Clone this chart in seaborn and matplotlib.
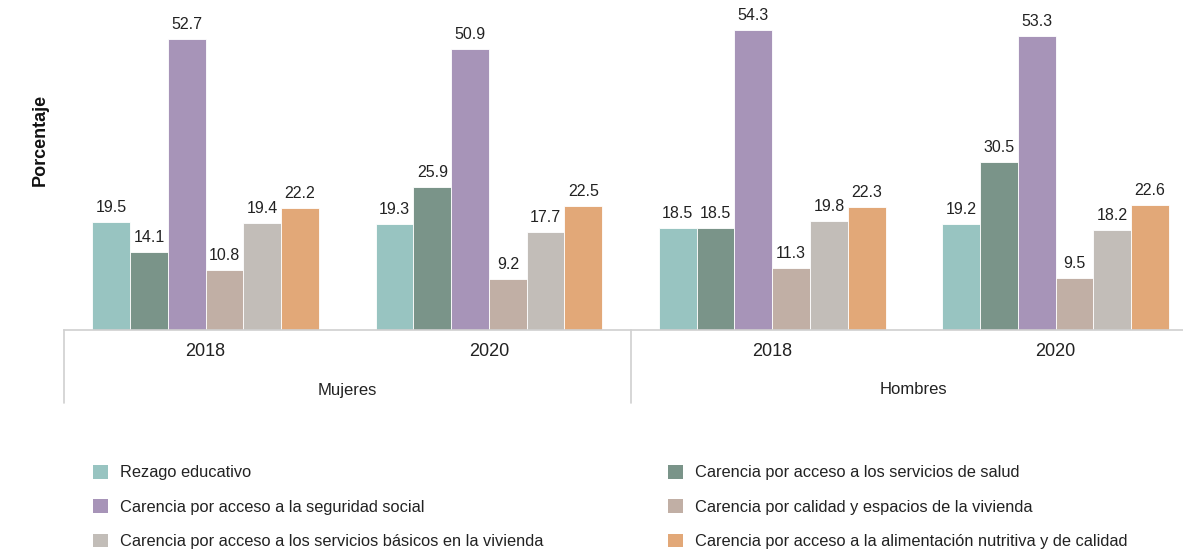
import pandas as pd
import seaborn as sns
import matplotlib.pyplot as plt
from matplotlib.patches import Patch

# Datos
grupos = ["Mujeres 2018", "Mujeres 2020", "Hombres 2018", "Hombres 2020"]
anios = ["2018", "2020", "2018", "2020"]
sexos = ["Mujeres", "Hombres"]
carencias = [
    "Rezago educativo",
    "Carencia por acceso a los servicios de salud",
    "Carencia por acceso a la seguridad social",
    "Carencia por calidad y espacios de la vivienda",
    "Carencia por acceso a los servicios básicos en la vivienda",
    "Carencia por acceso a la alimentación nutritiva y de calidad",
]
rezago = [19.5, 19.3, 18.5, 19.2]
salud = [14.1, 25.9, 18.5, 30.5]
seguridad = [52.7, 50.9, 54.3, 53.3]
calidad = [10.8, 9.2, 11.3, 9.5]
basicos = [19.4, 17.7, 19.8, 18.2]
alimentacion = [22.2, 22.5, 22.3, 22.6]

colores = ["#98C4C1", "#7A9489", "#A794B8", "#C1AFA5", "#C2BDB8", "#E2A878"]

series = [rezago, salud, seguridad, calidad, basicos, alimentacion]
filas = []
for carencia, valores in zip(carencias, series):
    for grupo, v in zip(grupos, valores):
        filas.append({"grupo": grupo, "carencia": carencia, "valor": v})
df = pd.DataFrame(filas)

sns.set_theme(style="white")
plt.rcParams["font.family"] = ["Liberation Sans", "DejaVu Sans"]

W, H = 1183, 549
fig = plt.figure(figsize=(W / 100, H / 100), dpi=100)
ax = fig.add_axes([64 / W, 1 - 330 / H, (W - 64) / W, 320 / H])

sns.barplot(data=df, x="grupo", y="valor", hue="carencia", order=grupos,
            hue_order=carencias, palette=colores, saturation=1, width=0.8,
            ax=ax, edgecolor="white", linewidth=0.6, legend=False)

for cont in ax.containers:
    ax.bar_label(cont, fmt="%.1f", padding=5, fontsize=11.5, color="#222222")

ax.set_ylim(0, 58)
ax.set_xlim(-0.5, 3.45)
ax.set_xlabel("")
ax.set_ylabel("")
ax.set_yticks([])
ax.set_xticks(range(len(grupos)))
ax.set_xticklabels(anios, fontsize=13, color="#222222")
ax.tick_params(axis="x", length=0, pad=9)
for s in ["left", "top", "right"]:
    ax.spines[s].set_visible(False)
ax.spines["bottom"].set_color("#d0d0d0")
ax.spines["bottom"].set_linewidth(1.2)

# separadores y etiquetas de sexo
tr = ax.get_xaxis_transform()
for xs in [-0.5, 1.5]:
    ax.plot([xs, xs], [0, -73 / 320], transform=tr, color="#d0d0d0",
            lw=1.2, clip_on=False)
for i, sexo in enumerate(sexos):
    ax.text(0.5 + 2 * i, -60 / 320, sexo, transform=tr, ha="center",
            va="center", fontsize=12, color="#222222")

fig.text(40 / W, 1 - 140 / H, "Porcentaje", rotation=90, ha="center",
         va="center", fontsize=13, fontweight="bold", color="#111111")

# leyenda en dos columnas
handles = [Patch(facecolor=c, edgecolor="none") for c in colores]
for col, xpx in enumerate([93, 668]):
    idx = [col, col + 2, col + 4]
    fig.legend([handles[i] for i in idx], [carencias[i] for i in idx],
               loc="upper left", bbox_to_anchor=(xpx / W, 1 - 465 / H),
               frameon=False, fontsize=11.8, borderpad=0, borderaxespad=0,
               handlelength=0.9, handleheight=0.9, handletextpad=0.75,
               labelspacing=1.15, labelcolor="#222222")

fig.savefig("out.png", dpi=100)
